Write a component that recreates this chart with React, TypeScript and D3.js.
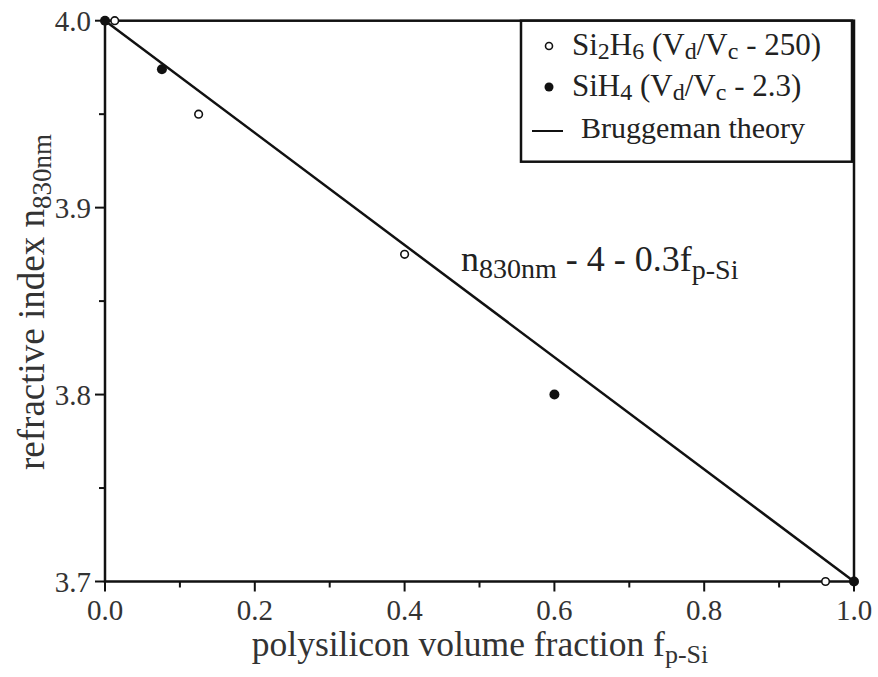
import React from "react";
import * as d3 from "d3";

const openX = [0.013, 0.125, 0.4, 0.962];
const openY = [4.0, 3.95, 3.875, 3.7];
const filledX = [0.0, 0.076, 0.6, 1.0];
const filledY = [4.0, 3.974, 3.8, 3.7];
const theoryX = [0, 1];
const theoryY = [4.0, 3.7];
const xMajor = [0, 0.2, 0.4, 0.6, 0.8, 1.0];
const xMinor = [0.1, 0.3, 0.5, 0.7, 0.9];
const yMajor = [3.7, 3.8, 3.9, 4.0];
const yMinor = [3.75, 3.85, 3.95];

const W = 878, H = 677;
const L = 105, R = 854, T = 20.7, B = 581.5;
const FONT = "'Liberation Serif', 'Times New Roman', serif";

export default function App() {
  const x = d3.scaleLinear().domain([0, 1]).range([L, R]);
  const y = d3.scaleLinear().domain([3.7, 4.0]).range([B, T]);
  const line = d3.line<number>().x((d, i) => x(theoryX[i])).y((d, i) => y(theoryY[i]));
  return (
    <svg width={W} height={H} style={{ position: "absolute", left: 0, top: 0, background: "#fff" }} fontFamily={FONT}>
      <rect x={0} y={0} width={W} height={H} fill="#fff" />
      <path d={line(theoryX) || ""} fill="none" stroke="#111" strokeWidth={2.5} />
      <rect x={L} y={T} width={R - L} height={B - T} fill="none" stroke="#111" strokeWidth={2.5} />
      {xMajor.map((v) => (
        <g key={"xm" + v}>
          <line x1={x(v)} x2={x(v)} y1={B} y2={B + 10} stroke="#111" strokeWidth={2} />
          <text x={x(v)} y={620} fontSize={29} textAnchor="middle" fill="#333">{v.toFixed(1)}</text>
        </g>
      ))}
      {xMinor.map((v) => (
        <line key={"xn" + v} x1={x(v)} x2={x(v)} y1={B} y2={B + 6} stroke="#111" strokeWidth={2} />
      ))}
      {yMajor.map((v) => (
        <g key={"ym" + v}>
          <line x1={L - 10} x2={L} y1={y(v)} y2={y(v)} stroke="#111" strokeWidth={2} />
          <text x={91} y={y(v) + 10} fontSize={29} textAnchor="end" fill="#333">{v.toFixed(1)}</text>
        </g>
      ))}
      {yMinor.map((v) => (
        <line key={"yn" + v} x1={L - 6} x2={L} y1={y(v)} y2={y(v)} stroke="#111" strokeWidth={2} />
      ))}
      {openX.map((v, i) => (
        <circle key={"o" + i} cx={x(v)} cy={y(openY[i])} r={3.8} fill="#fff" stroke="#111" strokeWidth={1.6} />
      ))}
      {filledX.map((v, i) => (
        <circle key={"f" + i} cx={x(v)} cy={y(filledY[i])} r={5} fill="#111" />
      ))}
      <text x={461} y={271} fontSize={36} fill="#222">
        n<tspan fontSize={28} dy={7}>830nm</tspan><tspan dy={-7}> - 4 - 0.3f</tspan><tspan fontSize={28} dy={8}>p-Si</tspan>
      </text>
      <text x={480} y={656} fontSize={35.5} textAnchor="middle" fill="#333">
        polysilicon volume fraction f<tspan fontSize={26} dy={7}>p-Si</tspan>
      </text>
      <text transform="translate(44,470) rotate(-90)" fontSize={37} fill="#333">
        refractive index n<tspan fontSize={27} dy={7}>830nm</tspan>
      </text>
      <rect x={521} y={T} width={331} height={141} fill="#fff" stroke="#111" strokeWidth={2.5} />
      <circle cx={549} cy={46} r={3.5} fill="#fff" stroke="#111" strokeWidth={1.6} />
      <text x={572} y={55} fontSize={31} fill="#222">
        Si<tspan fontSize={24} dy={4}>2</tspan><tspan dy={-4}>H</tspan><tspan fontSize={24} dy={4}>6</tspan><tspan dy={-4}> (V</tspan><tspan fontSize={24} dy={4}>d</tspan><tspan dy={-4}>/V</tspan><tspan fontSize={24} dy={4}>c</tspan><tspan dy={-4}> - 250)</tspan>
      </text>
      <circle cx={549} cy={87} r={4.5} fill="#111" />
      <text x={572} y={96} fontSize={31} fill="#222">
        SiH<tspan fontSize={24} dy={4}>4</tspan><tspan dy={-4}> (V</tspan><tspan fontSize={24} dy={4}>d</tspan><tspan dy={-4}>/V</tspan><tspan fontSize={24} dy={4}>c</tspan><tspan dy={-4}> - 2.3)</tspan>
      </text>
      <line x1={532} x2={563} y1={131} y2={131} stroke="#111" strokeWidth={2} />
      <text x={581} y={138} fontSize={30} fill="#222">Bruggeman theory</text>
    </svg>
  );
}
